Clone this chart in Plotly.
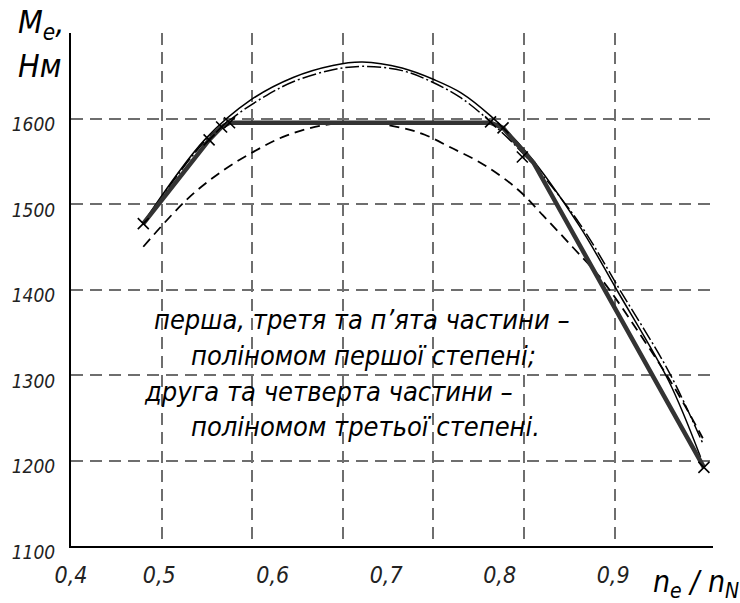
import plotly.graph_objects as go

# ---------------- data ----------------
# thick piecewise line (linear / cubic parts)
thick_x = [0.486, 0.544, 0.555, 0.562, 0.792, 0.803, 0.810, 0.818, 0.830, 0.980]
thick_y = [1477, 1575, 1590, 1595, 1595, 1589, 1578, 1566, 1548, 1192]

# cross markers (break points)
mark_x = [0.486, 0.544, 0.555, 0.562, 0.792, 0.803, 0.820, 0.980]
mark_y = [1477, 1575, 1590, 1595, 1596, 1589, 1555, 1192]

# thin solid curve
thin_x = [0.486, 0.540, 0.581, 0.618, 0.653, 0.679, 0.714, 0.743, 0.766, 0.792,
          0.824, 0.870, 0.903, 0.949, 0.977]
thin_y = [1478, 1575, 1622, 1648, 1662, 1666, 1659, 1645, 1630, 1603,
          1560, 1475, 1400, 1293, 1204]

# dash-dot curve
dd_x = [0.486, 0.540, 0.566, 0.592, 0.618, 0.653, 0.679, 0.714, 0.740, 0.766, 0.792,
        0.827, 0.870, 0.908, 0.949, 0.979]
dd_y = [1477, 1573, 1602, 1625, 1643, 1657, 1661, 1656, 1643, 1624, 1596,
        1550, 1478, 1395, 1304, 1220]

# lower dashed curve
low_x = [0.486, 0.525, 0.555, 0.583, 0.612, 0.644, 0.679, 0.714, 0.734, 0.757,
         0.786, 0.816, 0.838, 0.864, 0.888, 0.923, 0.955, 0.979]
low_y = [1450, 1506, 1538, 1561, 1580, 1592, 1596, 1589, 1581, 1566,
         1546, 1517, 1487, 1450, 1415, 1349, 1283, 1226]

x_tick_vals = [0.4223, 0.5, 0.6, 0.7, 0.8, 0.9]
x_tick_text = ["0,4", "0,5", "0,6", "0,7", "0,8", "0,9"]
y_tick_vals = [1100, 1200, 1300, 1400, 1500, 1600]
y_tick_text = ["1100", "1200", "1300", "1400", "1500", "1600"]

note_lines = [
    "перша, третя та п’ята частини –",
    "поліномом першої степені;",
    "друга та четверта частини –",
    "поліномом третьої степені.",
]

FONT = "DejaVu Sans Condensed, Liberation Sans Narrow, Arial Narrow, sans-serif"

fig = go.Figure()

fig.add_trace(go.Scatter(x=low_x, y=low_y, mode="lines", line_shape="spline",
                         line=dict(color="black", width=1.8, dash="10px,6px"),
                         showlegend=False, hoverinfo="skip"))
fig.add_trace(go.Scatter(x=dd_x, y=dd_y, mode="lines", line_shape="spline",
                         line=dict(color="black", width=1.5, dash="14px,3px,2px,3px"),
                         showlegend=False, hoverinfo="skip"))
fig.add_trace(go.Scatter(x=thin_x, y=thin_y, mode="lines", line_shape="spline",
                         line=dict(color="black", width=1.5),
                         showlegend=False, hoverinfo="skip"))
fig.add_trace(go.Scatter(x=thick_x, y=thick_y, mode="lines",
                         line=dict(color="#333333", width=4.5),
                         showlegend=False, hoverinfo="skip"))
fig.add_trace(go.Scatter(x=mark_x, y=mark_y, mode="markers",
                         marker=dict(symbol="x-thin", size=11, color="black",
                                     line=dict(color="black", width=1.6)),
                         showlegend=False, hoverinfo="skip"))
# invisible trace for the grid axis
fig.add_trace(go.Scatter(x=[0, 7], y=[1100, 1100], xaxis="x2", mode="none",
                         showlegend=False, hoverinfo="skip"))

fig.update_layout(
    width=740, height=603,
    margin=dict(l=64, r=27, t=33, b=57),
    plot_bgcolor="white", paper_bgcolor="white",
    xaxis=dict(range=[0.4223, 0.988], tickvals=x_tick_vals, ticktext=x_tick_text,
               showgrid=False, zeroline=False, showline=True, linecolor="black",
               linewidth=2, ticks="", ticklabelstandoff=7,
               tickfont=dict(family=FONT, size=23, color="#222", style="italic")),
    xaxis2=dict(overlaying="x", range=[0, 7.085], tickvals=[1, 2, 3, 4, 5, 6],
                showticklabels=False, showgrid=True, gridcolor="#6e6e6e",
                griddash="12px,7px", gridwidth=1.5, zeroline=False, showline=False,
                ticks=""),
    yaxis=dict(range=[1100, 1700], tickvals=y_tick_vals, ticktext=y_tick_text,
               showgrid=True, gridcolor="#6e6e6e", griddash="12px,7px", gridwidth=1.5,
               zeroline=False, showline=True, linecolor="black", linewidth=2,
               ticks="", ticklabelstandoff=10, ticklabelshift=6,
               tickfont=dict(family=FONT, size=19, color="#222", style="italic")),
)

W, H, L, T = 649, 513, 64, 33


def px(xp):
    return (xp - L) / W


def py(yp):
    return (T + H - yp) / H


note_pos = [(146, 319), (183, 355), (136, 391), (183, 426)]
for (xp, yp), txt in zip(note_pos, note_lines):
    fig.add_annotation(x=px(xp), y=py(yp), xref="paper", yref="paper", text=txt,
                       showarrow=False, xanchor="left", yanchor="middle",
                       font=dict(family=FONT, size=27, color="black", style="italic"))

fig.add_annotation(x=px(8), y=py(24), xref="paper", yref="paper",
                   text="M<sub>e</sub>,", showarrow=False, xanchor="left", yanchor="middle",
                   font=dict(family=FONT, size=32, color="black", style="italic"))
fig.add_annotation(x=px(8), y=py(66), xref="paper", yref="paper",
                   text="Нм", showarrow=False, xanchor="left", yanchor="middle",
                   font=dict(family=FONT, size=32, color="black", style="italic"))
fig.add_annotation(x=px(650), y=py(584), xref="paper", yref="paper",
                   text="n<sub>e</sub> / n<sub>N</sub>", showarrow=False,
                   xanchor="left", yanchor="middle",
                   font=dict(family=FONT, size=30, color="black", style="italic"))

fig.write_html("out.html")
